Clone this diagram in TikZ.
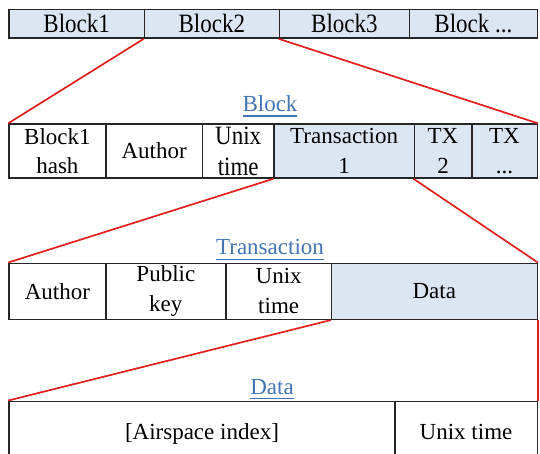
\documentclass[tikz,border=0pt]{standalone}
\usepackage{fontspec}
\setmainfont{Liberation Serif}
\definecolor{cellfill}{HTML}{DCE6F2}
\definecolor{titleblue}{HTML}{4375B4}
\definecolor{linkred}{HTML}{E0201E}
\newcommand\ttlline[1]{\setbox0\hbox{#1}\rlap{\rule[-4.9pt]{\wd0}{1.1pt}}\box0}
\newcommand\tallrow[1]{\scalebox{1}[1.15]{#1}}
\begin{document}
\begin{tikzpicture}[x=1pt,y=-1pt,
  cell/.style={draw=black!85, line width=1.3pt, inner sep=0pt, anchor=north west,
    align=center, font=\fontsize{23}{29}\selectfont},
  shaded/.style={cell, fill=cellfill},
  ttl/.style={inner sep=0pt, anchor=base, text=titleblue, font=\fontsize{23}{29}\selectfont},
  zoomline/.style={draw=linkred, line width=1.7pt}]
\useasboundingbox (0,0) rectangle (540,454);
\clip (0,0) rectangle (540,454);
% row 1
\node[shaded, minimum width=135.5pt, minimum height=28.5pt] (b1) at (8.3,9) {\tallrow{Block1}};
\node[shaded, minimum width=134.8pt, minimum height=28.5pt] (b2) at (143.8,9) {\tallrow{Block2}};
\node[shaded, minimum width=130.4pt, minimum height=28.5pt] (b3) at (278.6,9) {\tallrow{Block3}};
\node[shaded, minimum width=127.5pt, minimum height=28.5pt] (b4) at (409,9) {\tallrow{Block ...}};
% title Block
\node[ttl] (tblock) at (270,111.7) {\ttlline{Block}};
% row 2
\node[cell, minimum width=96.9pt, minimum height=54.2pt] (bh) at (8.3,123.3) {Block1\\hash};
\node[cell, minimum width=96.5pt, minimum height=54.2pt] (ba) at (105.2,123.3) {Author};
\node[cell, minimum width=71.7pt, minimum height=54.2pt] (bu) at (201.7,123.3) {\tallrow{Unix}\\[2pt]\tallrow{time}};
\node[shaded, minimum width=140.1pt, minimum height=54.2pt] (bt1) at (273.4,123.3) {Transaction\\[1pt]1};
\node[shaded, minimum width=57.7pt, minimum height=54.2pt] (bt2) at (413.5,123.3) {TX\\[1pt]2};
\node[shaded, minimum width=65.3pt, minimum height=54.2pt] (bt3) at (471.2,123.3) {TX\\[1pt]...};
% title Transaction
\node[ttl] (ttrans) at (270,254.8) {\ttlline{Transaction}};
% row 3
\node[cell, minimum width=96.9pt, minimum height=56.3pt] (ta) at (8.3,262.5) {Author};
\node[cell, minimum width=120pt, minimum height=56.3pt] (tp) at (105.2,262.5) {Public\\[1pt]key};
\node[cell, minimum width=105.6pt, minimum height=56.3pt] (tu) at (225.2,262.5) {Unix\\[1pt]time};
\node[shaded, minimum width=205.7pt, minimum height=56.3pt] (td) at (330.8,262.5) {Data};
% title Data
\node[ttl] (tdata) at (272,394.5) {\ttlline{Data}};
% row 4
\node[cell, text depth=0pt, minimum width=386pt, minimum height=61.5pt] (da) at (8.3,400.5) {[Airspace index]};
\node[cell, text depth=0pt, minimum width=142.2pt, minimum height=61.5pt] (du) at (394.3,400.5) {Unix time};
% zoom lines
\draw[zoomline] (b2.south west) -- (bh.north west);
\draw[zoomline] (b3.south west) -- (bt3.north east);
\draw[zoomline] (bt1.south west) -- (ta.north west);
\draw[zoomline] (bt2.south west) -- (td.north east);
\draw[zoomline] (td.south west) -- (da.north west);
\draw[zoomline] (td.south east) -- (du.north east);
\end{tikzpicture}
\end{document}
